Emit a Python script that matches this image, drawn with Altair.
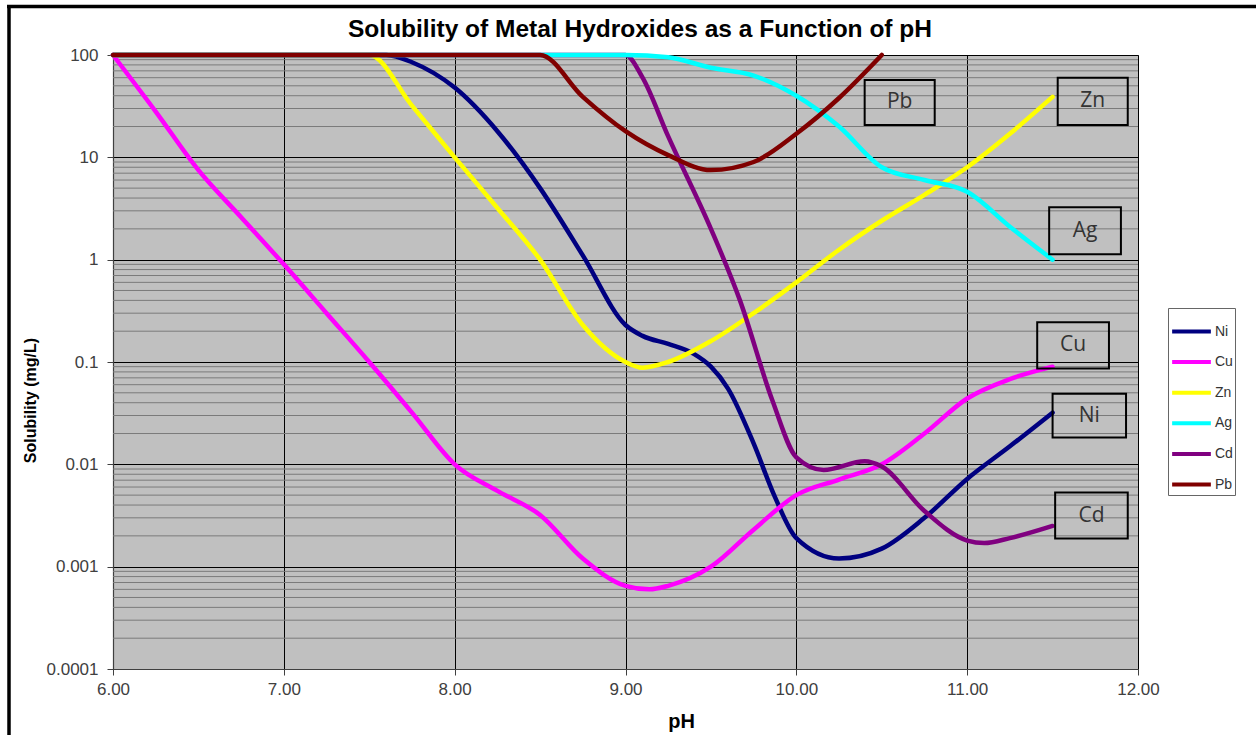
import altair as alt
import pandas as pd

chart_title = "Solubility of Metal Hydroxides as a Function of pH"

metal_names = ["Ni", "Cu", "Zn", "Ag", "Cd", "Pb"]
metal_colors = ["#000080", "#FF00FF", "#FFFF00", "#00FFFF", "#800080", "#800000"]
draw_order = ["Ni", "Cu", "Zn", "Cd", "Ag", "Pb"]

ni_ph = [6.0, 7.0, 7.5, 7.6, 7.75, 8.0, 8.25, 8.5, 8.75, 9.0, 9.1, 9.25, 9.4, 9.5, 9.6, 9.75, 9.87, 10.0, 10.25, 10.5, 10.75, 11.0, 11.25, 11.5]
ni_val = [100, 100, 100, 100, 85, 48, 18, 5, 1.1, 0.23, 0.18, 0.15, 0.12, 0.09, 0.055, 0.016, 0.005, 0.0019, 0.0012, 0.0015, 0.003, 0.0072, 0.015, 0.032]

cu_ph = [6.0, 6.25, 6.5, 6.75, 7.0, 7.25, 7.5, 7.75, 8.0, 8.25, 8.5, 8.75, 9.0, 9.14, 9.25, 9.5, 9.75, 10.0, 10.25, 10.5, 10.75, 11.0, 11.25, 11.5]
cu_val = [100, 28, 7.5, 2.6, 0.9, 0.3, 0.1, 0.032, 0.01, 0.0055, 0.0032, 0.0012, 0.00065, 0.0006, 0.00065, 0.001, 0.0023, 0.005, 0.0071, 0.01, 0.02, 0.044, 0.068, 0.09]

zn_ph = [6.0, 7.0, 7.5, 7.75, 8.0, 8.25, 8.5, 8.75, 9.0, 9.1, 9.25, 9.5, 9.75, 10.0, 10.25, 10.5, 10.75, 11.0, 11.25, 11.5]
zn_val = [100, 100, 100, 32, 10, 3.2, 1.0, 0.23, 0.1, 0.088, 0.1, 0.16, 0.3, 0.6, 1.25, 2.4, 4.3, 8.0, 17, 39]

ag_ph = [6.0, 8.5, 8.75, 9.0, 9.25, 9.5, 9.75, 10.0, 10.25, 10.5, 10.75, 11.0, 11.25, 11.5]
ag_val = [100, 100, 100, 100, 95, 75, 63, 40, 20, 8.0, 6.0, 4.6, 2.1, 1.0]

cd_ph = [6.0, 8.5, 9.0, 9.1, 9.25, 9.5, 9.67, 9.86, 10.0, 10.16, 10.4, 10.5, 10.75, 11.0, 11.1, 11.25, 11.5]
cd_val = [100, 100, 100, 60, 16, 2.0, 0.4, 0.042, 0.0117, 0.0088, 0.0107, 0.0095, 0.0035, 0.0018, 0.0017, 0.0019, 0.0025]

pb_ph = [6.0, 8.5, 8.75, 9.0, 9.25, 9.5, 9.75, 10.0, 10.25, 10.5]
pb_val = [100, 100, 39, 18, 10.5, 7.5, 9, 17, 38, 100]

x_ticks = [6, 7, 8, 9, 10, 11, 12]
y_ticks = [0.0001, 0.001, 0.01, 0.1, 1, 10, 100]
y_minor = [k * d for d in [0.0001, 0.001, 0.01, 0.1, 1, 10] for k in range(2, 10)]

box_labels = ["Pb", "Zn", "Ag", "Cu", "Ni", "Cd"]
box_ph_left = [10.40, 11.53, 11.48, 11.41, 11.50, 11.515]
box_ph_right = [10.81, 11.94, 11.90, 11.83, 11.93, 11.94]
box_top = [57, 60, 3.26, 0.244, 0.049, 0.0053]
box_bottom = [20.7, 20.7, 1.13, 0.0865, 0.0183, 0.00188]

series = {"Ni": (ni_ph, ni_val), "Cu": (cu_ph, cu_val), "Zn": (zn_ph, zn_val),
          "Ag": (ag_ph, ag_val), "Cd": (cd_ph, cd_val), "Pb": (pb_ph, pb_val)}
rows = []
for name, (xs, vs) in series.items():
    for xv, vv in zip(xs, vs):
        rows.append({"metal": name, "ph": xv, "val": vv})
df = pd.DataFrame(rows)

boxes = pd.DataFrame({
    "label": box_labels,
    "ph": box_ph_left, "ph2": box_ph_right,
    "val": box_top, "val2": box_bottom,
})
box_text = pd.DataFrame({
    "label": box_labels,
    "ph": [(a + b) / 2 for a, b in zip(box_ph_left, box_ph_right)],
    "val": [(a * b) ** 0.5 for a, b in zip(box_top, box_bottom)],
})

x_scale = alt.Scale(domain=[6, 12], nice=False, zero=False)
y_scale = alt.Scale(type="log", domain=[0.0001, 100], nice=False)

x_axis = alt.Axis(values=x_ticks, format=".2f", grid=True, gridColor="black", gridWidth=1,
                  tickSize=6, labelPadding=6, labelFontSize=17, labelFlush=False, title="pH",
                  titleFontSize=20, titleFontWeight="bold", titleX=568, titleY=58,
                  titleBaseline="alphabetic", titleAlign="center")
y_axis = alt.Axis(values=y_ticks, format="~g", grid=True, gridColor="black", gridWidth=1,
                  tickSize=6, labelPadding=9, labelFontSize=17, labelFlush=False,
                  title="Solubility (mg/L)",
                  titleFontSize=16, titleFontWeight="bold", titleX=-83, titleY=345,
                  titleAngle=270, titleAlign="center", titleBaseline="middle")

x_enc = alt.X("ph:Q", scale=x_scale, axis=x_axis)
y_enc = alt.Y("val:Q", scale=y_scale, axis=y_axis)

color_enc = alt.Color(
    "metal:N",
    scale=alt.Scale(domain=metal_names, range=metal_colors),
    legend=alt.Legend(title=None, orient="none", legendX=1055, legendY=253,
                      symbolType="stroke", symbolStrokeWidth=4, symbolSize=1500,
                      labelFontSize=14, labelFont="Liberation Sans", labelColor="#333333",
                      fillColor="white", strokeColor="#666666", padding=2,
                      rowPadding=0.6, labelOffset=2),
)

minor = alt.Chart(pd.DataFrame({"val": y_minor})).mark_rule(
    color="#7a7a7a", strokeWidth=1
).encode(y=y_enc)

line_layers = []
for name in draw_order:
    line_layers.append(
        alt.Chart(df).transform_filter(alt.datum.metal == name).mark_line(
            strokeWidth=4.5, interpolate="monotone", strokeCap="round", strokeJoin="round"
        ).encode(x=x_enc, y=y_enc, color=color_enc)
    )

rects = alt.Chart(boxes).mark_rect(
    fill="#c0c0c0", fillOpacity=0, stroke="black", strokeWidth=2
).encode(x=x_enc, x2="ph2:Q", y=y_enc, y2="val2:Q")

texts = alt.Chart(box_text).mark_text(
    font="Open Sans", fontSize=21, color="#333333", baseline="middle", align="center"
).encode(x=x_enc, y=y_enc, text="label:N")

title_text = alt.Chart(pd.DataFrame({"t": [chart_title]})).mark_text(
    font="Liberation Sans", fontSize=24.5, fontWeight="bold", color="black",
    align="center", baseline="alphabetic"
).encode(x=alt.value(527), y=alt.value(-18), text="t:N")

frame_top = alt.Chart(pd.DataFrame({"k": [0]})).mark_rule(color="black", strokeWidth=3.5).encode(
    x=alt.value(-106), x2=alt.value(1200), y=alt.value(-48.5)
)
frame_left = alt.Chart(pd.DataFrame({"k": [0]})).mark_rule(color="black", strokeWidth=3.5).encode(
    x=alt.value(-104), y=alt.value(-50), y2=alt.value(700)
)

chart = alt.layer(minor, *line_layers, rects, texts, title_text, frame_top, frame_left).properties(
    width=1025, height=614,
    autosize=alt.AutoSizeParams(type="none"),
    padding={"left": 113, "top": 55, "right": 118, "bottom": 66},
    background="white",
).configure_view(
    fill="#c0c0c0", stroke="#808080", strokeWidth=1
).configure_axis(
    labelFont="Liberation Sans", labelColor="#404040", tickColor="#404040",
    domainColor="#404040", domainWidth=1.2, titleFont="Liberation Sans", titleColor="black",
)

chart.save("out.html", embed_options={"renderer": "svg", "actions": False})
